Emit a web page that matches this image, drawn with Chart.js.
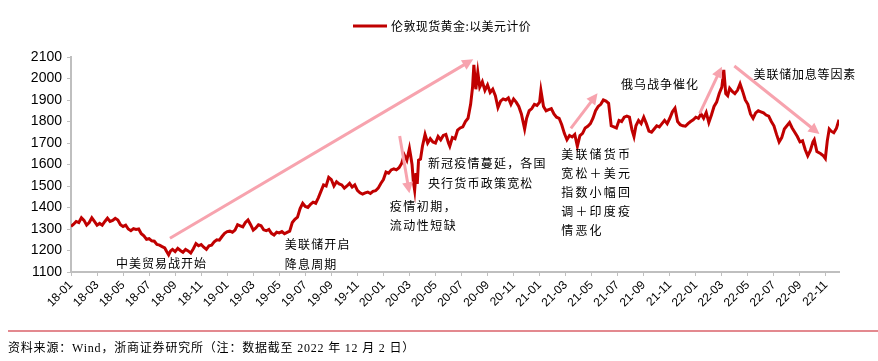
<!DOCTYPE html>
<html>
<head>
<meta charset="utf-8">
<script src="https://cdn.jsdelivr.net/npm/chart.js@4.4.1/dist/chart.umd.min.js"></script>
<style>
  html, body { margin: 0; padding: 0; background: #fff; }
  #wrap { position: relative; width: 878px; height: 361px; overflow: hidden; }
  #goldChart { position: absolute; left: 0; top: 0; }
  #rule { position: absolute; left: 8px; right: 0; top: 330px; border-top: 2px solid #E3898F; }
  #source { position: absolute; left: 8px; top: 338px; font: 12px "Liberation Serif", "Noto Sans CJK SC", serif; letter-spacing: 0.8px; color: #000; white-space: nowrap; }
</style>
</head>
<body>
<div id="wrap">
  <canvas id="goldChart" width="878" height="361"></canvas>
  <div id="rule"></div>
  <div id="source">资料来源：Wind，浙商证券研究所（注：数据截至 2022 年 12 月 2 日）</div>
</div>
<script>
// months counted from 2018-01 (0 = start of Jan 2018)
const months = [
  0.0, 0.2, 0.4, 0.6, 0.8, 1.0, 1.2, 1.4, 1.6, 1.8, 2.0, 2.2, 2.4, 2.6, 2.8, 3.0, 3.2, 3.4, 3.6, 3.8,
  4.0, 4.2, 4.4, 4.6, 4.8, 5.0, 5.2, 5.4, 5.6, 5.8, 6.0, 6.2, 6.4, 6.6, 6.8, 7.0, 7.2, 7.35, 7.5, 7.65, 7.8,
  8.0, 8.2, 8.4, 8.6, 8.8, 9.0, 9.2, 9.4, 9.6, 9.8, 10.0, 10.2, 10.4, 10.6, 10.8, 11.0, 11.2, 11.4, 11.6, 11.8,
  12.0, 12.2, 12.4, 12.6, 12.8, 13.0, 13.2, 13.4, 13.6, 13.8, 14.0, 14.2, 14.4, 14.6, 14.8, 15.0, 15.2, 15.4, 15.6, 15.8,
  16.0, 16.2, 16.4, 16.6, 16.8, 17.0, 17.2, 17.4, 17.6, 17.8, 18.0, 18.2, 18.4, 18.6, 18.8, 19.0, 19.2, 19.4, 19.6, 19.8,
  20.0, 20.2, 20.4, 20.6, 20.8, 21.0, 21.2, 21.4, 21.6, 21.8, 22.0, 22.2, 22.4, 22.6, 22.8, 23.0, 23.2, 23.4, 23.6, 23.8,
  24.0, 24.2, 24.4, 24.6, 24.8, 25.0, 25.2, 25.4, 25.6, 25.8, 26.0, 26.1, 26.2, 26.3, 26.4, 26.5, 26.6, 26.7, 26.85,
  27.0, 27.2, 27.4, 27.6, 27.8, 28.0, 28.2, 28.4, 28.6, 28.8, 29.0, 29.1, 29.3, 29.5, 29.7, 29.9,
  30.1, 30.3, 30.5, 30.7, 30.85, 30.95, 31.1, 31.25, 31.4, 31.6, 31.8, 32.0, 32.2, 32.4, 32.6, 32.8,
  33.0, 33.2, 33.4, 33.6, 33.8, 34.0, 34.2, 34.4, 34.6, 34.85, 35.0, 35.2, 35.4, 35.6, 35.8,
  36.0, 36.1, 36.3, 36.5, 36.7, 36.9, 37.1, 37.3, 37.5, 37.7, 37.9, 38.1, 38.3, 38.5, 38.7, 38.9,
  39.1, 39.3, 39.5, 39.7, 39.9, 40.1, 40.3, 40.5, 40.7, 40.9, 41.1, 41.3, 41.5, 41.7, 41.9,
  42.1, 42.3, 42.5, 42.7, 42.9, 43.1, 43.25, 43.4, 43.6, 43.8, 44.0, 44.2, 44.4, 44.6, 44.8,
  45.0, 45.2, 45.4, 45.6, 45.8, 46.0, 46.2, 46.4, 46.6, 46.8, 47.0, 47.2, 47.4, 47.6, 47.8,
  48.0, 48.2, 48.4, 48.6, 48.8, 49.0, 49.2, 49.4, 49.6, 49.8, 50.0, 50.15, 50.3, 50.45, 50.6, 50.8,
  51.0, 51.2, 51.4, 51.6, 51.8, 52.0, 52.2, 52.4, 52.6, 52.8, 53.0, 53.2, 53.4, 53.6, 53.8,
  54.0, 54.2, 54.4, 54.6, 54.8, 55.0, 55.2, 55.4, 55.6, 55.8, 56.0, 56.2, 56.4, 56.6, 56.8,
  57.0, 57.1, 57.3, 57.6, 57.8, 57.95, 58.1, 58.25, 58.4, 58.6, 58.8, 59.0
];
const prices = [
  1312, 1322, 1335, 1330, 1352, 1340, 1318, 1330, 1352, 1335, 1318, 1326, 1318, 1335, 1350, 1335, 1340, 1350, 1342, 1320,
  1312, 1318, 1300, 1292, 1302, 1298, 1300, 1278, 1268, 1252, 1255, 1245, 1243, 1228, 1225, 1218, 1212, 1195, 1180, 1198, 1205,
  1195, 1210, 1200, 1192, 1205, 1198, 1188, 1208, 1232, 1222, 1228, 1215, 1205, 1222, 1225, 1240, 1250, 1248, 1265, 1280,
  1288, 1290, 1285, 1295, 1320, 1315, 1310, 1330, 1342, 1320, 1295, 1305, 1320, 1315, 1296, 1292, 1298, 1280, 1272, 1285,
  1282, 1288, 1278, 1284, 1290, 1330, 1345, 1355, 1395, 1420, 1405, 1400, 1415, 1425, 1420, 1445, 1475, 1505, 1500, 1540,
  1530, 1500, 1520, 1510, 1505, 1490, 1500, 1512, 1495, 1505, 1480, 1468, 1462, 1468, 1472, 1465, 1475, 1478, 1490, 1512,
  1530, 1565, 1560, 1575, 1580, 1575, 1585, 1605, 1645, 1620, 1675, 1640, 1600, 1520, 1480, 1560, 1510, 1620, 1625,
  1685, 1740, 1700, 1720, 1705, 1700, 1730, 1715, 1735, 1740, 1700, 1685, 1725, 1720, 1760, 1770,
  1775, 1800, 1815, 1880, 1960, 2063, 1950, 2030, 1960, 1985, 1945, 1970, 1935, 1950, 1920, 1865,
  1895, 1905, 1900, 1910, 1880, 1905, 1890, 1870, 1835, 1765, 1815, 1850, 1860, 1880, 1875,
  1890, 1945, 1870, 1850, 1855, 1860, 1835, 1820, 1815, 1785, 1745, 1715, 1735, 1728, 1740, 1685,
  1735, 1745, 1770, 1778, 1790, 1815, 1850, 1870, 1880, 1900, 1895, 1885, 1780, 1775, 1770,
  1805, 1800, 1820, 1825, 1820, 1760, 1730, 1780, 1805, 1790, 1820, 1790, 1755, 1750, 1765,
  1780, 1775, 1790, 1805, 1790, 1815, 1845, 1862, 1800, 1785, 1780, 1778, 1790, 1800, 1808,
  1820, 1815, 1835, 1815, 1842, 1795, 1830, 1870, 1890, 1930, 1960, 2040, 1930, 1920, 1955, 1940,
  1930, 1945, 1975, 1940, 1900, 1880, 1835, 1815, 1840, 1850, 1845, 1840, 1830, 1825, 1800,
  1780, 1740, 1705, 1725, 1765, 1780, 1795, 1770, 1750, 1730, 1705, 1710, 1670, 1640, 1665,
  1705, 1715, 1660, 1650, 1640, 1628, 1710, 1765, 1755, 1748, 1768, 1808
];
const tickLabels = [
  '18-01', '18-03', '18-05', '18-07', '18-09', '18-11',
  '19-01', '19-03', '19-05', '19-07', '19-09', '19-11',
  '20-01', '20-03', '20-05', '20-07', '20-09', '20-11',
  '21-01', '21-03', '21-05', '21-07', '21-09', '21-11',
  '22-01', '22-03', '22-05', '22-07', '22-09', '22-11'
];
const seriesName = '伦敦现货黄金:以美元计价';

// annotation arrows and notes, placed in chart units (month, price)
const arrows = [
  [7.6, 1257, 30.9, 2089],
  [25.25, 1733, 26.0, 1466],
  [38.4, 1768, 40.45, 1931],
  [48.3, 1838, 50.0, 2055],
  [50.96, 2058, 57.5, 1742]
];
const notes = [
  { m: 3.45, v: 1140, lines: ['中美贸易战开始'], gap: 1 },
  { m: 16.42, v: 1226, lines: ['美联储开启', '降息周期'], gap: 1.2, step: 93 },
  { m: 24.48, v: 1404, lines: ['疫情初期，', '流动性短缺'], gap: 1.5, step: 89 },
  { m: 27.42, v: 1606, lines: ['新冠疫情蔓延，各国', '央行货币政策宽松'], gap: 1.2, step: 93 },
  { m: 37.66, v: 1649, lines: ['美联储货币', '宽松＋美元', '指数小幅回', '调＋印度疫', '情恶化'], gap: 2.2, step: 89.5 },
  { m: 42.26, v: 1973, lines: ['俄乌战争催化'], gap: 1 },
  { m: 52.44, v: 2021, lines: ['美联储加息等因素'], gap: 0.8 }
];

const lineColor = '#C00000';
const axisColor = '#BFBFBF';
const arrowColor = '#F7A3AE';
const cjkFont = '"Noto Sans CJK SC", sans-serif';

function drawSpaced(ctx, text, x, y, gap) {
    for (const ch of text) {
        ctx.fillText(ch, x, y);
        x += ctx.measureText(ch).width + gap;
    }
}

const notesPlugin = {
    id: 'notes',
    afterDatasetsDraw(chart) {
        const ctx = chart.ctx;
        const xs = chart.scales.x;
        const ys = chart.scales.y;
        ctx.save();

        // arrows
        ctx.strokeStyle = arrowColor;
        ctx.fillStyle = arrowColor;
        ctx.lineWidth = 3;
        arrows.forEach(a => {
            const x1 = xs.getPixelForValue(a[0]), y1 = ys.getPixelForValue(a[1]);
            const x2 = xs.getPixelForValue(a[2]), y2 = ys.getPixelForValue(a[3]);
            const ang = Math.atan2(y2 - y1, x2 - x1);
            const head = 11;
            ctx.beginPath();
            ctx.moveTo(x1, y1);
            ctx.lineTo(x2 - Math.cos(ang) * head * 0.8, y2 - Math.sin(ang) * head * 0.8);
            ctx.stroke();
            ctx.beginPath();
            ctx.moveTo(x2, y2);
            ctx.lineTo(x2 - head * Math.cos(ang) + 5.5 * Math.sin(ang), y2 - head * Math.sin(ang) - 5.5 * Math.cos(ang));
            ctx.lineTo(x2 - head * Math.cos(ang) - 5.5 * Math.sin(ang), y2 - head * Math.sin(ang) + 5.5 * Math.cos(ang));
            ctx.closePath();
            ctx.fill();
        });

        // text notes
        ctx.fillStyle = '#000';
        ctx.font = '12px ' + cjkFont;
        ctx.textBaseline = 'middle';
        ctx.textAlign = 'left';
        notes.forEach(n => {
            const x = xs.getPixelForValue(n.m);
            n.lines.forEach((line, i) => {
                const y = ys.getPixelForValue(n.v - i * (n.step || 0));
                drawSpaced(ctx, line, x, y, n.gap);
            });
        });

        // legend
        ctx.strokeStyle = lineColor;
        ctx.lineWidth = 3;
        ctx.beginPath();
        ctx.moveTo(353, 26);
        ctx.lineTo(387, 26);
        ctx.stroke();
        drawSpaced(ctx, seriesName, 391, 26, 0.4);

        ctx.restore();
    }
};

document.addEventListener('DOMContentLoaded', function() {
    const ctx = document.getElementById('goldChart').getContext('2d');
    const points = months.map((m, i) => ({ x: m, y: prices[i] }));

    new Chart(ctx, {
        type: 'line',
        data: {
            datasets: [{
                label: seriesName,
                data: points,
                borderColor: lineColor,
                borderWidth: 3,
                pointRadius: 0,
                tension: 0
            }]
        },
        options: {
            responsive: false,
            animation: false,
            layout: { padding: { top: 57, right: 39, left: 0, bottom: 0 } },
            plugins: {
                legend: { display: false },
                tooltip: { enabled: false }
            },
            scales: {
                x: {
                    type: 'linear',
                    min: 0,
                    max: 59,
                    afterFit: s => { s.height = 89; },
                    // one tick every two months, 18-01 .. 22-11
                    afterBuildTicks: s => { s.ticks = tickLabels.map((t, i) => ({ value: i * 2 })); },
                    border: { color: axisColor, width: 2 },
                    grid: { drawOnChartArea: false, color: axisColor, tickLength: 4, lineWidth: 1 },
                    ticks: {
                        autoSkip: false,
                        minRotation: 45,
                        maxRotation: 45,
                        padding: 2,
                        color: '#000',
                        font: { family: 'Liberation Sans, Arial, sans-serif', size: 12 },
                        callback: v => tickLabels[Math.round(v / 2)]
                    }
                },
                y: {
                    min: 1100,
                    max: 2100,
                    afterFit: s => { s.width = 71; },
                    border: { color: axisColor, width: 2 },
                    grid: { drawOnChartArea: false, color: axisColor, tickLength: 4, lineWidth: 1 },
                    ticks: {
                        stepSize: 100,
                        padding: 5,
                        color: '#000',
                        font: { family: 'Liberation Sans, Arial, sans-serif', size: 14 },
                        callback: v => String(v)
                    }
                }
            }
        },
        plugins: [notesPlugin]
    });
});
</script>
</body>
</html>
